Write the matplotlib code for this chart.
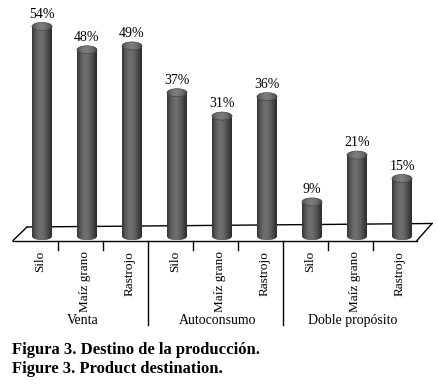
import numpy as np
import matplotlib.pyplot as plt
from matplotlib.patches import Ellipse, PathPatch
from matplotlib.path import Path
from matplotlib.colors import LinearSegmentedColormap

# data
groups = ["Venta", "Autoconsumo", "Doble propósito"]
items = ["Silo", "Maíz grano", "Rastrojo"]
values = [54, 48, 49, 37, 31, 36, 9, 21, 15]
labels = [f"{v}%" for v in values]

W, H = 439, 387
fig = plt.figure(figsize=(W / 100, H / 100), dpi=100)
ax = fig.add_axes([0, 0, 1, 1])
ax.axis("off")

# pixel mapping: bar i centred at x=42+45*i, value 0 at y=237 (from top), 3.9 px per %
px = 45.0
py = 3.9
ax.set_xlim(-42 / px, (W - 42) / px)
ax.set_ylim((237 - H) / py, 237 / py)

serif = ["Liberation Serif", "DejaVu Serif"]

body_cmap = LinearSegmentedColormap.from_list(
    "cyl", ["#353535", "#575757", "#6c6c6c", "#6e6e6e", "#5e5e5e", "#444444", "#2c2c2c"])
top_cmap = LinearSegmentedColormap.from_list(
    "cyltop", ["#505050", "#727272", "#7e7e7e", "#6c6c6c", "#484848"])

n = len(values)
bw = 20 / px          # bar width in data units
eh = 8 / py           # ellipse height in data units

# floor (back line drawn first, behind bars)
back_l = (237 - 227) / py
back_r = (237 - 223.5) / py
front_y = (237 - 240.5) / py
ax.plot([-0.5 + 0.167, 8.5 + 0.167], [back_l, back_r], color="black", lw=1, zorder=1)
ax.plot([-0.5 - 0.144, 8.5 - 0.167], [front_y, front_y], color="black", lw=1, zorder=1)
ax.plot([-0.5 - 0.144, -0.5 + 0.167], [front_y, back_l], color="black", lw=1, zorder=1)
ax.plot([8.5 - 0.167, 8.5 + 0.167], [front_y, back_r], color="black", lw=1, zorder=1)

grad = np.linspace(0, 1, 64).reshape(1, -1)
bars = ax.bar(range(n), values, width=bw, color="none", edgecolor="none", zorder=2)
for i, (b, v) in enumerate(zip(bars, values)):
    x0 = i - bw / 2
    rect = Path([(x0, 0), (x0 + bw, 0), (x0 + bw, v), (x0, v), (x0, 0)],
                [Path.MOVETO, Path.LINETO, Path.LINETO, Path.LINETO, Path.CLOSEPOLY])
    bot = Ellipse((i, 0.2), bw, eh)
    bot_path = bot.get_patch_transform().transform_path(bot.get_path())
    clip = PathPatch(Path.make_compound_path(rect, bot_path), transform=ax.transData,
                     facecolor="none", edgecolor="none")
    ax.add_patch(clip)
    im = ax.imshow(grad, cmap=body_cmap, extent=(x0, x0 + bw, 0.2 - eh / 2, v),
                   aspect="auto", interpolation="bilinear", zorder=2)
    im.set_clip_path(clip)

    top = Ellipse((i, v), bw, eh, facecolor="none", edgecolor="none")
    ax.add_patch(top)
    im2 = ax.imshow(grad, cmap=top_cmap, extent=(x0, x0 + bw, v - eh / 2, v + eh / 2),
                    aspect="auto", interpolation="bilinear", zorder=3)
    im2.set_clip_path(top)
    ax.add_patch(Ellipse((i, v), bw, eh, facecolor="none", edgecolor="#444444",
                         lw=0.5, zorder=4))

    ax.text(i, v + 1.5, labels[i], ha="center", va="bottom", fontsize=10,
            family=serif, zorder=5)

# category ticks and group separators
for k in range(1, n):
    x = k - 0.5 - 0.144
    bottom = -22.6 if k % 3 == 0 else -3.3
    ax.plot([x, x], [front_y, bottom], color="black", lw=1, zorder=1)

for i in range(n):
    ax.text(i - 0.05, -3.6, items[i % 3], rotation=90, ha="center", va="top",
            fontsize=9.5, family=serif)

for g, name in enumerate(groups):
    ax.text(3 * g + 1 - 0.1, -21.3, name, ha="center", va="center", fontsize=10, family=serif)

# caption
fig.text(12 / W, 1 - 354 / H, "Figura 3. Destino de la producción.", fontsize=12,
         fontweight="bold", family=serif, va="baseline")
fig.text(12 / W, 1 - 373 / H, "Figure 3. Product destination.", fontsize=12,
         fontweight="bold", family=serif, va="baseline")

fig.savefig("out.png", dpi=100, facecolor="white")
